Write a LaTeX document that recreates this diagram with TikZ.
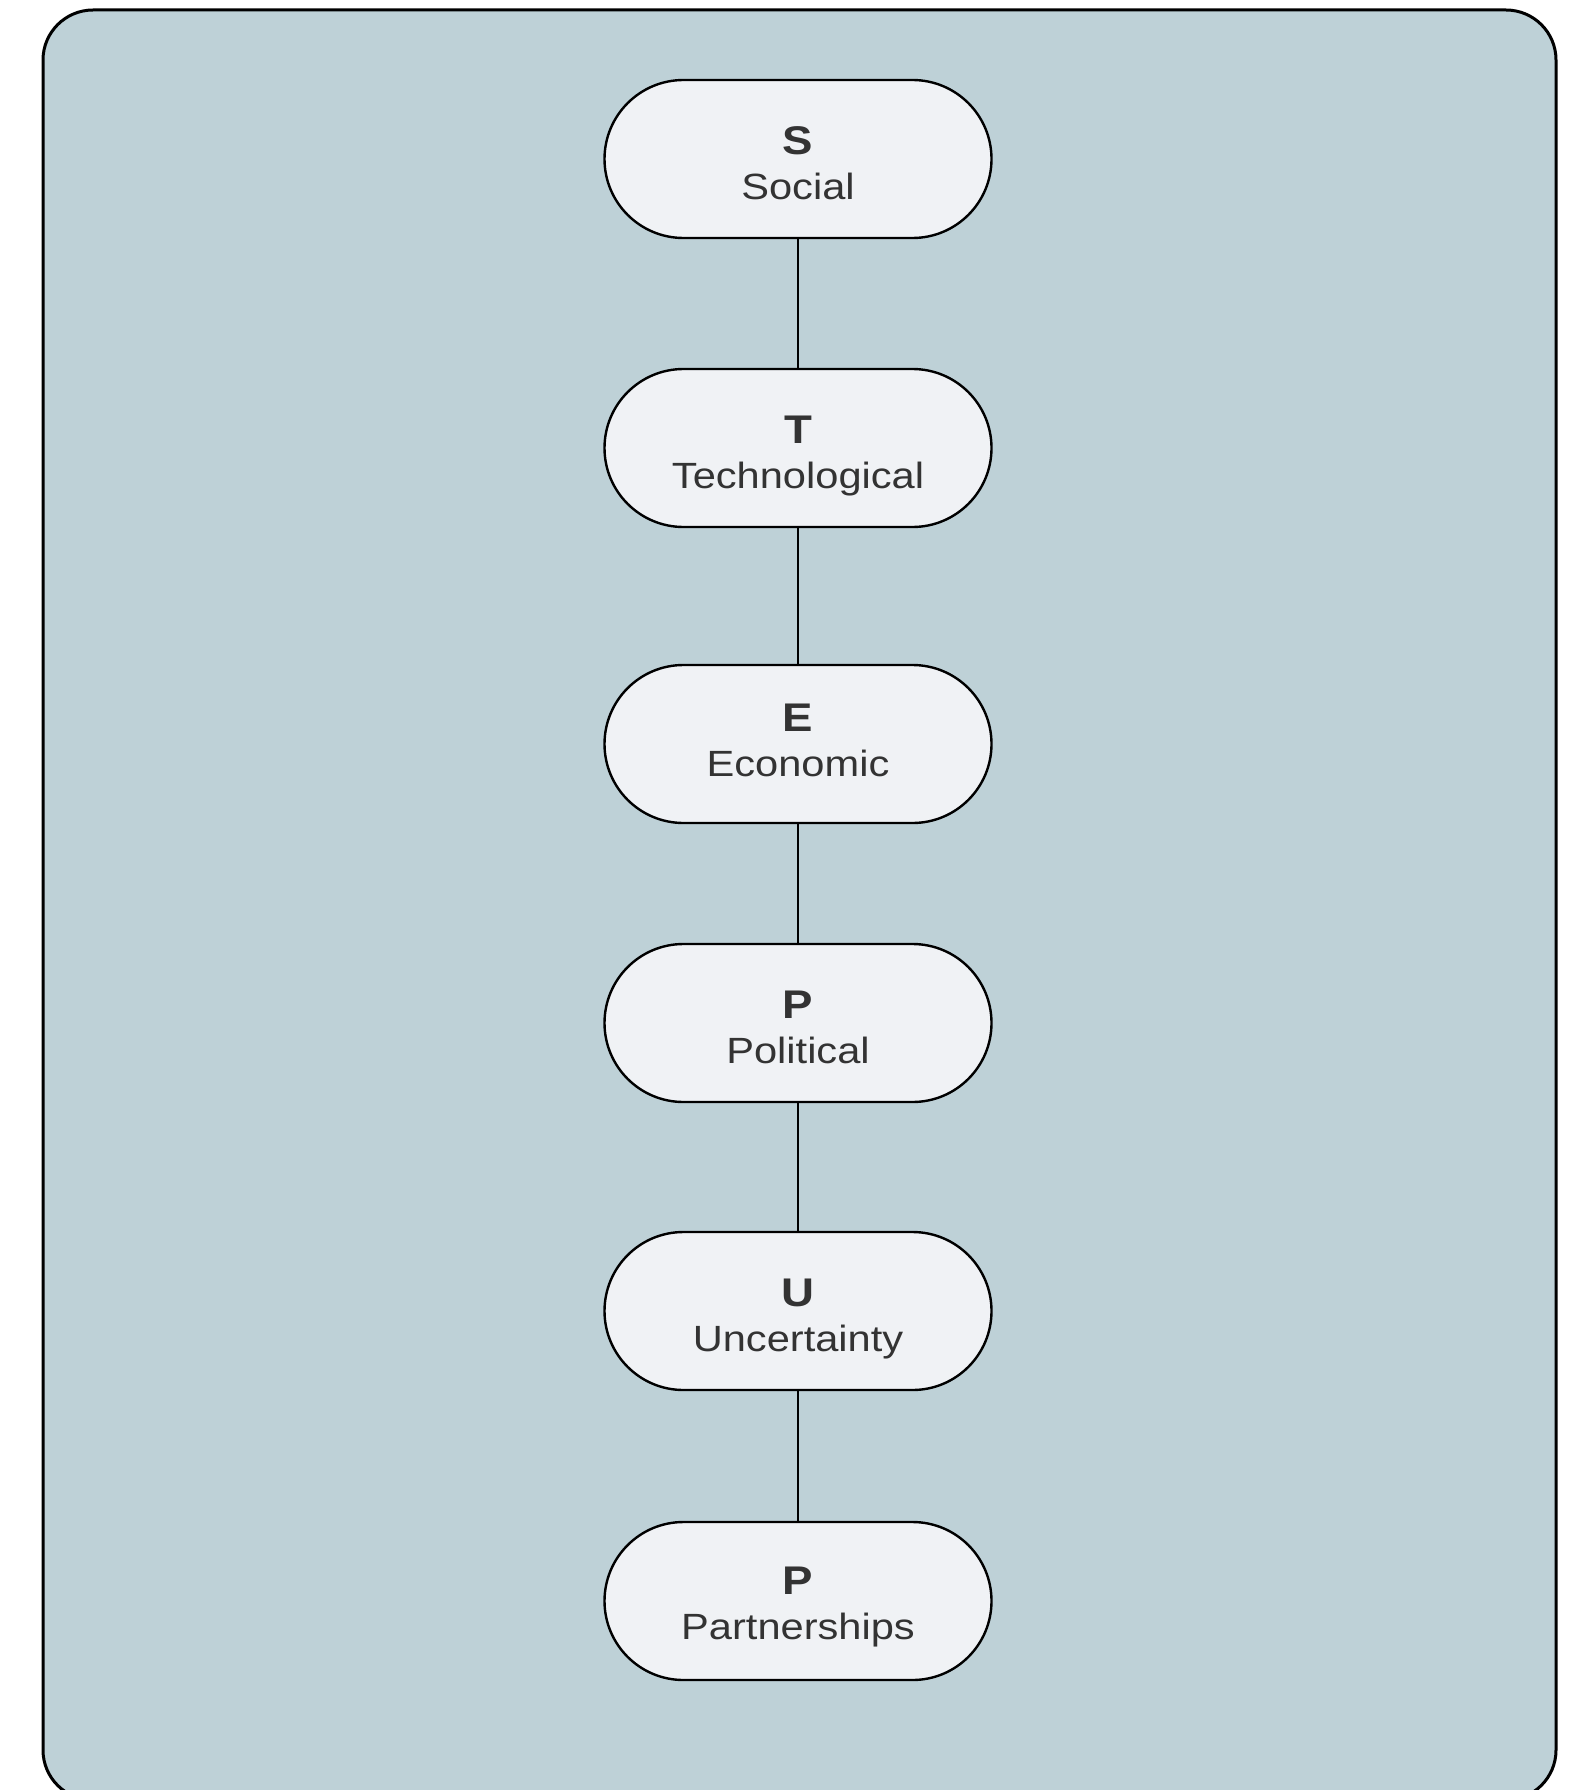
\documentclass[tikz,border=0pt]{standalone}
\usepackage{fontspec}
\setmainfont[FakeStretch=1.14]{Liberation Sans}
\definecolor{panel}{HTML}{BED1D7}
\definecolor{pill}{HTML}{F0F2F5}
\definecolor{ink}{HTML}{333333}
% two-line pill caption: bold initial over the full word;
% the optional argument is the height of the opening strut (sets where the lines sit)
\newcommand\pillcaption[3][45.5pt]{%
  \parbox[c][100pt][t]{380pt}{\centering
    \fontsize{36.5}{44.5}\selectfont
    \rule{0pt}{#1}{\fontsize{40}{44.5}\selectfont\textbf{#2}}\\#3}}
\begin{document}
\begin{tikzpicture}[x=1pt,y=-1pt,
  pillbox/.style={draw=black, line width=2.4pt, fill=pill, rectangle,
    rounded corners=79pt, minimum width=387pt, minimum height=158pt,
    inner sep=0pt, text=ink},
  link/.style={draw=black, line width=2pt}]
  \useasboundingbox (0,0) rectangle (1578,1790);
  % outer panel, its lower edge running past the page
  \draw[line width=3pt, fill=panel, rounded corners=50pt] (43,10) rectangle (1556,1800);
  \node[pillbox] (s)  at (798,159)  {\pillcaption[46pt]{S}{Social}};
  \node[pillbox] (t)  at (798,448)  {\pillcaption{T}{Technological}};
  \node[pillbox] (e)  at (798,744)  {\pillcaption[37.5pt]{E}{Economic}};
  \node[pillbox] (p1) at (798,1023) {\pillcaption{P}{Political}};
  \node[pillbox] (u)  at (798,1311) {\pillcaption{U}{Uncertainty}};
  \node[pillbox] (p2) at (798,1601) {\pillcaption[43.5pt]{P}{Partnerships}};
  \draw[link] (s) -- (t);
  \draw[link] (t) -- (e);
  \draw[link] (e) -- (p1);
  \draw[link] (p1) -- (u);
  \draw[link] (u) -- (p2);
\end{tikzpicture}
\end{document}
